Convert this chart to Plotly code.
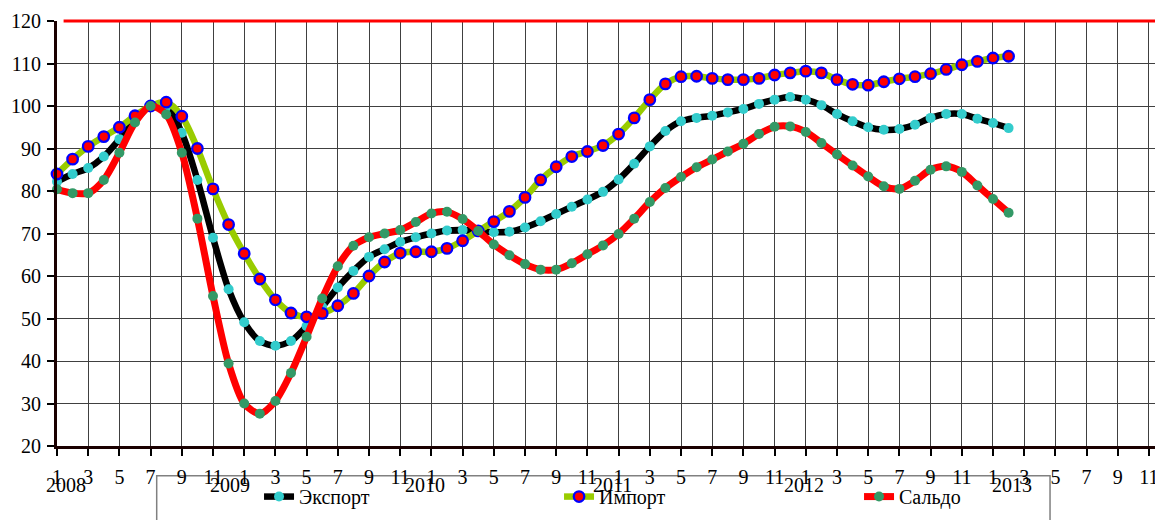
import plotly.graph_objects as go

# Monthly index values, Jan 2008 .. Feb 2013 (Jul 2008 = 100)
months = list(range(62))
export_vals = [82.2, 84.0, 85.4, 88.1, 92.2, 96.5, 100.0, 99.8, 93.7, 82.6,
               69.0, 56.9, 49.1, 44.7, 43.6, 44.7, 48.2, 52.7, 57.3, 61.2,
               64.5, 66.3, 68.0, 69.1, 70.0, 70.7, 70.8, 70.6, 70.3, 70.4,
               71.4, 72.9, 74.6, 76.3, 78.0, 79.8, 82.7, 86.4, 90.5, 94.1,
               96.4, 97.2, 97.7, 98.5, 99.3, 100.5, 101.5, 102.1, 101.5, 100.2,
               98.1, 96.4, 95.0, 94.4, 94.6, 95.6, 97.2, 98.1, 98.1, 97.0,
               96.0, 94.8]
import_vals = [84.0, 87.5, 90.5, 92.8, 95.0, 97.7, 100.0, 100.9, 97.6, 90.0,
               80.5, 72.1, 65.3, 59.3, 54.4, 51.3, 50.4, 51.2, 53.0, 55.9,
               60.0, 63.3, 65.4, 65.7, 65.7, 66.5, 68.3, 70.6, 72.8, 75.2,
               78.5, 82.6, 85.7, 88.1, 89.3, 90.7, 93.4, 97.2, 101.5, 105.2,
               106.9, 107.0, 106.5, 106.2, 106.2, 106.5, 107.3, 107.8, 108.2, 107.8,
               106.2, 105.1, 104.9, 105.7, 106.4, 106.9, 107.6, 108.6, 109.7, 110.5,
               111.3, 111.7]
saldo_vals = [80.4, 79.5, 79.5, 82.6, 89.0, 96.1, 100.0, 98.0, 89.0, 73.5,
              55.3, 39.4, 30.0, 27.6, 30.6, 37.2, 45.7, 54.7, 62.3, 67.1,
              69.1, 70.0, 70.8, 72.7, 74.7, 75.1, 73.4, 70.6, 67.4, 64.9,
              62.8, 61.5, 61.5, 63.0, 65.1, 67.2, 69.9, 73.5, 77.4, 80.7,
              83.3, 85.6, 87.4, 89.3, 91.1, 93.4, 95.1, 95.2, 93.9, 91.3,
              88.6, 86.0, 83.4, 81.1, 80.5, 82.4, 85.0, 85.8, 84.5, 81.3,
              78.1, 74.9]

tick_vals = list(range(0, 71, 2))
tick_text = ["1", "3", "5", "7", "9", "11"] * 6
year_labels = ["2008", "2009", "2010", "2011", "2012", "2013"]
year_label_x = [0.56, 11.1, 23.6, 35.6, 47.9, 61.2]

FONT = "Liberation Serif, Times New Roman, serif"
FS = 20

fig = go.Figure()
fig.add_trace(go.Scatter(
    x=months, y=export_vals, name="Экспорт", mode="lines+markers",
    line=dict(color="#000000", width=6.5, shape="spline", smoothing=0.8),
    marker=dict(color="#33CCCC", size=10, line=dict(width=0)),
    cliponaxis=False))
fig.add_trace(go.Scatter(
    x=months, y=import_vals, name="Импорт", mode="lines+markers",
    line=dict(color="#99CC00", width=6.5, shape="spline", smoothing=0.8),
    marker=dict(color="#FF0000", size=10.5, line=dict(width=2.3, color="#0000FF")),
    cliponaxis=False))
fig.add_trace(go.Scatter(
    x=months, y=saldo_vals, name="Сальдо", mode="lines+markers",
    line=dict(color="#FF0000", width=7, shape="spline", smoothing=0.8),
    marker=dict(color="#339966", size=10, line=dict(width=0)),
    cliponaxis=False))

for lbl, xp in zip(year_labels, year_label_x):
    fig.add_annotation(x=xp, y=-0.091, xref="x", yref="paper", text=lbl,
                       showarrow=False, font=dict(family=FONT, size=FS, color="#000"),
                       xanchor="center", yanchor="middle")

# top red line (plot-area top edge)
fig.add_shape(type="line", xref="paper", yref="paper", x0=0.006, x1=1, y0=1, y1=1,
              line=dict(color="#FF0000", width=3), layer="above")
# legend frame
fig.add_shape(type="rect", xref="paper", yref="paper", x0=0.0908, x1=0.9044,
              y0=-0.0699, y1=-0.35, line=dict(color="#808080", width=1.5),
              fillcolor="rgba(0,0,0,0)", layer="below")

fig.update_layout(
    width=1155, height=520,
    margin=dict(l=57, r=0, t=21, b=74, autoexpand=False),
    paper_bgcolor="#FFFFFF", plot_bgcolor="#FFFFFF",
    font=dict(family=FONT, size=FS, color="#000"),
    showlegend=True,
    legend=dict(orientation="h", x=0.184, xanchor="left", y=-0.119, yanchor="middle",
                entrywidth=255, entrywidthmode="pixels",
                font=dict(family=FONT, size=FS, color="#000"),
                bgcolor="rgba(0,0,0,0)", borderwidth=0),
    xaxis=dict(range=[0, 70.385], tickmode="array", tickvals=tick_vals, ticktext=tick_text,
               showgrid=True, gridcolor="#404040", gridwidth=1,
               ticks="outside", ticklen=7, tickwidth=2, tickcolor="#000",
               showline=True, linecolor="#1a0000", linewidth=3,
               zeroline=False, ticklabelstandoff=4, automargin=False,
               ticklabeloverflow="allow",
               tickfont=dict(family=FONT, size=FS, color="#000")),
    yaxis=dict(range=[20, 120], tickmode="linear", tick0=20, dtick=10,
               showgrid=True, gridcolor="#404040", gridwidth=1,
               ticks="outside", ticklen=7, tickwidth=2, tickcolor="#000",
               showline=True, linecolor="#1a0000", linewidth=3,
               zeroline=False, ticklabelstandoff=2, automargin=False,
               tickfont=dict(family=FONT, size=FS, color="#000")),
    xaxis2=dict(range=[0, 70.385], overlaying="x", anchor="y", side="bottom",
                tickmode="array", tickvals=tick_vals, showticklabels=False,
                ticks="inside", ticklen=6, tickwidth=2, tickcolor="#000",
                showgrid=False, zeroline=False, showline=False, automargin=False),
    yaxis2=dict(range=[20, 120], overlaying="y", anchor="x", side="left",
                tickmode="linear", tick0=20, dtick=10, showticklabels=False,
                ticks="inside", ticklen=6, tickwidth=2, tickcolor="#000",
                showgrid=False, zeroline=False, showline=False, automargin=False),
)

fig.write_html("out.html", config={"displayModeBar": False},
               post_script="document.body.style.margin='0px';document.body.style.overflow='hidden';")
